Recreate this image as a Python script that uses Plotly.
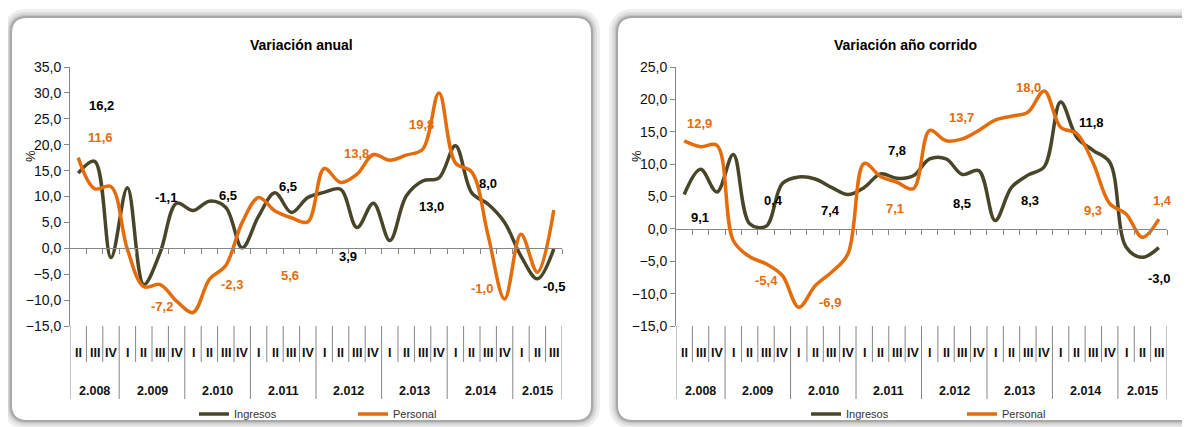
import plotly.graph_objects as go

# ---------------- data ----------------
year_labels = ["2.008", "2.009", "2.010", "2.011", "2.012", "2.013", "2.014", "2.015"]
year_quarters = [["II", "III", "IV"]] + [["I", "II", "III", "IV"]] * 6 + [["I", "II", "III"]]
quarters = [q for qs in year_quarters for q in qs]

anual_ingresos = [14.5, 16.8, -1.8, 11.7, -7.0, -0.8, 8.7, 7.3, 9.1, 7.9, 0.1, 6.2, 10.7, 6.9, 9.8,
                  10.8, 11.4, 4.0, 8.7, 1.5, 10.1, 13.0, 13.6, 19.8, 10.7, 8.5, 5.0, -1.5, -5.9, -0.1]
anual_personal = [17.5, 11.5, 11.9, -0.2, -7.4, -7.0, -10.2, -12.4, -6.0, -3.3, 5.0, 9.8, 7.2, 5.9, 5.1,
                  15.4, 12.7, 14.3, 18.1, 17.0, 18.0, 19.1, 30.0, 16.5, 14.7, 2.4, -9.8, 2.7, -4.6, 7.4]

corrido_ingresos = [5.3, 9.2, 5.7, 11.5, 0.8, 0.4, 7.0, 8.0, 7.7, 6.4, 5.3, 6.4, 8.5, 7.8, 8.2,
                    10.8, 10.8, 8.4, 9.0, 1.3, 6.4, 8.3, 9.6, 19.6, 14.1, 12.1, 10.3, -2.8, -4.4, -2.9]
corrido_personal = [13.6, 12.7, 12.9, -1.8, -4.3, -5.4, -7.2, -12.1, -8.8, -6.7, -3.9, 10.1, 8.1, 7.2, 6.2,
                    15.2, 13.6, 13.9, 15.2, 16.8, 17.4, 18.0, 21.3, 15.7, 14.7, 10.1, 3.9, 2.3, -1.3, 1.5]

# annual summary labels (text) shown on each chart
anual_lbl_ing = ["16,2", "-1,1", "6,5", "6,5", "3,9", "13,0", "8,0", "-0,5"]
anual_lbl_per = ["11,6", "-7,2", "-2,3", "5,6", "13,8", "19,8", "-1,0", "7,2"]
corrido_lbl_ing = ["9,1", "0,4", "7,4", "7,8", "8,5", "8,3", "11,8", "-3,0"]
corrido_lbl_per = ["12,9", "-5,4", "-6,9", "7,1", "13,7", "18,0", "9,3", "1,4"]

# label anchor positions (category index, value units)
pos_anual_ing = [(1.43, 27.5), (5.34, 9.8), (9.12, 10.1), (12.79, 12.0), (16.43, -1.5), (21.55, 8.1), (25.0, 12.5), (29.0, -7.4)]
pos_anual_per = [(1.33, 21.4), (5.1, -11.2), (9.38, -6.9), (12.91, -5.2), (16.98, 18.3), (20.94, 23.9), (24.6, -7.7), (29.58, 5.9)]
pos_corr_ing = [(0.97, 1.8), (5.44, 4.4), (8.97, 2.9), (12.98, 12.1), (16.95, 3.9), (21.12, 4.4), (24.9, 16.5), (29.02, -7.6)]
pos_corr_per = [(0.92, 16.3), (5.04, -8.0), (8.91, -11.3), (12.88, 3.2), (16.95, 17.2), (21.02, 21.8), (25.0, 2.9), (29.23, 4.4)]

# ---------------- style ----------------
OFF = 8                      # page body margin
W, H = 1190 - OFF, 427 - OFF
FONT = "Liberation Sans, Arial, sans-serif"
C_ING = "#494529"
C_PER = "#E46C0A"
AX = "#868686"
TXT = "#111111"


def px_x(p):
    return (p - OFF) / W


def px_y(p):
    return 1 - (p - OFF) / H


n = len(quarters)
idx = list(range(n))

fig = go.Figure()

panels = [
    dict(xa="x", ya="y", xk="xaxis", yk="yaxis", dom=(70, 562), yr=(-15, 35), title="Variación anual",
         ing=anual_ingresos, per=anual_personal, li=anual_lbl_ing, lp=anual_lbl_per,
         pi=pos_anual_ing, pp=pos_anual_per, legend="legend", lx=194, box=(11, 592), tx=301, pctx=30),
    dict(xa="x2", ya="y2", xk="xaxis2", yk="yaxis2", dom=(676, 1167), yr=(-15, 25), title="Variación año corrido",
         ing=corrido_ingresos, per=corrido_personal, li=corrido_lbl_ing, lp=corrido_lbl_per,
         pi=pos_corr_ing, pp=pos_corr_per, legend="legend2", lx=806, box=(617, 1205), tx=905, pctx=636),
]

ydom = (px_y(326), px_y(67))
shapes = []
annotations = []


def rounded(x0, y0, x1, y1, r):
    rx, ry = r / W, r / H
    X0, X1 = px_x(x0), px_x(x1)
    Y0, Y1 = px_y(y0), px_y(y1)  # Y0 top, Y1 bottom
    return (f"M {X0+rx},{Y0} L {X1-rx},{Y0} Q {X1},{Y0} {X1},{Y0-ry} "
            f"L {X1},{Y1+ry} Q {X1},{Y1} {X1-rx},{Y1} L {X0+rx},{Y1} "
            f"Q {X0},{Y1} {X0},{Y1+ry} L {X0},{Y0-ry} Q {X0},{Y0} {X0+rx},{Y0} Z")


for p in panels:
    bx0, bx1 = p["box"]
    path = rounded(bx0, 17, bx1, 421, 16)
    for lw, col, fill in [(16, "#eeeeee", None), (10, "#dcdcdc", None), (5, "#c4c4c4", None), (2, "#a8a8a8", "white")]:
        shapes.append(dict(type="path", path=path, xref="paper", yref="paper", layer="below",
                           line=dict(color=col, width=lw), fillcolor=fill if fill else "rgba(0,0,0,0)"))

for p in panels:
    fig.add_trace(go.Scatter(x=idx, y=p["ing"], mode="lines", name="Ingresos", xaxis=p["xa"], yaxis=p["ya"],
                             line=dict(color=C_ING, width=3.5, shape="spline", smoothing=1.0),
                             legend=p["legend"], hoverinfo="skip"))
    fig.add_trace(go.Scatter(x=idx, y=p["per"], mode="lines", name="Personal", xaxis=p["xa"], yaxis=p["ya"],
                             line=dict(color=C_PER, width=3.5, shape="spline", smoothing=1.0),
                             legend=p["legend"], hoverinfo="skip"))

    y0, y1 = p["yr"]
    zero_pos = ydom[0] + (0 - y0) / (y1 - y0) * (ydom[1] - ydom[0])
    fig.layout[p["xk"]] = dict(domain=[px_x(p["dom"][0]), px_x(p["dom"][1])], range=[-0.5, n - 0.5],
                               anchor="free", position=zero_pos, showgrid=False, zeroline=False,
                               showline=True, linecolor=AX, linewidth=1,
                               tickvals=[i + 0.5 for i in idx], ticks="outside", ticklen=5,
                               tickcolor=AX, showticklabels=False, fixedrange=True, automargin=False)
    fig.layout[p["yk"]] = dict(domain=list(ydom), range=[y0, y1], anchor=p["xa"], showgrid=False, zeroline=False,
                               showline=True, linecolor=AX, linewidth=1, ticks="outside", ticklen=5,
                               tickcolor=AX, dtick=5, tick0=0, tickformat=".1f", automargin=False,
                               tickfont=dict(family=FONT, size=14, color=TXT), fixedrange=True)

    # category separators and labels
    xref = p["xa"]
    shapes.append(dict(type="line", xref=xref, yref="paper", x0=-0.5, x1=-0.5, y0=px_y(326), y1=px_y(399),
                       line=dict(color=AX, width=1)))
    start = 0
    for yl, qs in zip(year_labels, year_quarters):
        for k, q in enumerate(qs):
            i = start + k
            annotations.append(dict(xref=xref, yref="paper", x=i, y=px_y(353), text=f"<b>{q}</b>", showarrow=False,
                                    font=dict(family=FONT, size=12.5, color=TXT), xanchor="center", yanchor="middle"))
            last = (k == len(qs) - 1)
            shapes.append(dict(type="line", xref=xref, yref="paper", x0=i + 0.5, x1=i + 0.5,
                               y0=px_y(326), y1=px_y(399 if last else 362), line=dict(color=AX, width=1)))
        annotations.append(dict(xref=xref, yref="paper", x=start + (len(qs) - 1) / 2, y=px_y(391),
                                text=f"<b>{yl}</b>", showarrow=False,
                                font=dict(family=FONT, size=12.5, color=TXT), xanchor="center", yanchor="middle"))
        start += len(qs)

    # annual labels
    for t, (ax_, ay_) in zip(p["li"], p["pi"]):
        annotations.append(dict(xref=xref, yref=p["ya"], x=ax_, y=ay_, text=f"<b>{t}</b>", showarrow=False,
                                font=dict(family=FONT, size=13, color="#000000"), xanchor="center", yanchor="middle"))
    for t, (ax_, ay_) in zip(p["lp"], p["pp"]):
        annotations.append(dict(xref=xref, yref=p["ya"], x=ax_, y=ay_, text=f"<b>{t}</b>", showarrow=False,
                                font=dict(family=FONT, size=13, color=C_PER), xanchor="center", yanchor="middle"))

    # title and % label
    annotations.append(dict(xref="paper", yref="paper", x=px_x(p["tx"]), y=px_y(45), text=f"<b>{p['title']}</b>",
                            showarrow=False, font=dict(family=FONT, size=14, color="#000000"),
                            xanchor="center", yanchor="middle"))
    annotations.append(dict(xref="paper", yref="paper", x=px_x(p["pctx"]), y=px_y(156), text="%", textangle=-90,
                            showarrow=False, font=dict(family=FONT, size=13, color=TXT),
                            xanchor="center", yanchor="middle"))

leg = dict(orientation="h", xanchor="left", yanchor="middle", y=px_y(414), bgcolor="rgba(0,0,0,0)",
           font=dict(family=FONT, size=11, color="#333333"), entrywidthmode="pixels", traceorder="normal")
fig.update_layout(
    width=W, height=H, margin=dict(l=0, r=0, t=0, b=0, pad=0, autoexpand=False),
    paper_bgcolor="white", plot_bgcolor="rgba(0,0,0,0)",
    separators=",.", showlegend=True,
    legend=dict(leg, x=px_x(panels[0]["lx"]), entrywidth=114),
    legend2=dict(leg, x=px_x(panels[1]["lx"]), entrywidth=111),
    shapes=shapes, annotations=annotations,
    font=dict(family=FONT),
)

fig.write_html("out.html")
